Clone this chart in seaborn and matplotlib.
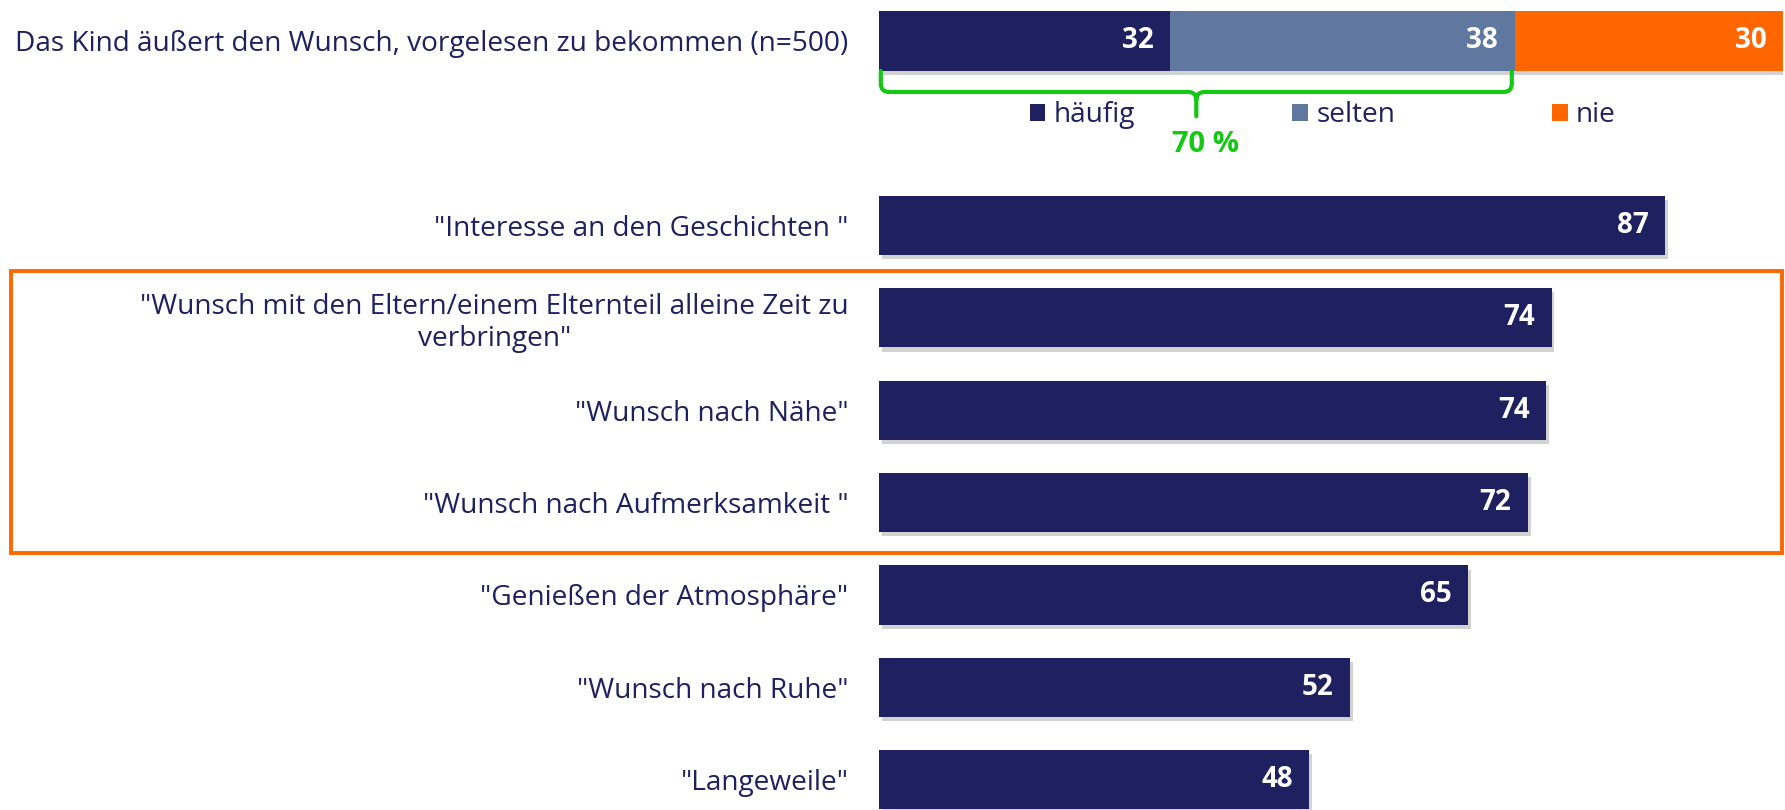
import numpy as np
import pandas as pd
import matplotlib
matplotlib.use("Agg")
import matplotlib.pyplot as plt
import matplotlib.patheffects as pe
from matplotlib.patches import Rectangle, Patch, PathPatch
from matplotlib.path import Path
import seaborn as sns

# ------------------------------------------------------------------
# data
# ------------------------------------------------------------------
top_label = "Das Kind äußert den Wunsch, vorgelesen zu bekommen (n=500)"
top_segments = ["häufig", "selten", "nie"]
top_values = [32.2, 38.1, 29.7]
top_shown = [32, 38, 30]

reasons = [
    '"Interesse an den Geschichten "',
    '"Wunsch mit den Eltern/einem Elternteil alleine Zeit zu\nverbringen"',
    '"Wunsch nach Nähe"',
    '"Wunsch nach Aufmerksamkeit "',
    '"Genießen der Atmosphäre"',
    '"Wunsch nach Ruhe"',
    '"Langeweile"',
]
reason_values = [87.0, 74.4, 73.8, 71.8, 65.2, 52.1, 47.6]
reason_shown = [87, 74, 74, 72, 65, 52, 48]
bracket_text = "70 %"

NAVY = "#1E2060"
SLATE = "#6078A0"
ORANGE = "#FF6600"
GREEN = "#14C814"
seg_colors = [NAVY, SLATE, ORANGE]

sns.set_theme(style="white")
plt.rcParams["font.family"] = ["Open Sans", "DejaVu Sans"]

W, H = 1785, 810
fig = plt.figure(figsize=(W / 100, H / 100), dpi=100)
ax = fig.add_axes([879 / W, 0, 904 / W, 1])

order = [top_label, " "] + reasons
shadow = [pe.SimplePatchShadow(offset=(2, -3), shadow_rgbFace="#808080", alpha=0.35), pe.Normal()]

# 1. stacked top bar: cumulative totals, longest first
cum = np.cumsum(top_values)
for i in reversed(range(len(top_values))):
    df_seg = pd.DataFrame({"label": [top_label], "value": [cum[i]]})
    sns.barplot(data=df_seg, x="value", y="label", order=order, orient="h",
                color=seg_colors[i], saturation=1, width=0.65, errorbar=None,
                linewidth=0, ax=ax)
    cont = ax.containers[-1]
    if i == len(top_values) - 1:
        for bar in cont:
            bar.set_path_effects(shadow)
    texts = ax.bar_label(cont, labels=[str(top_shown[i])], padding=-12,
                         color="white", fontsize=20, fontweight="bold")
    for t in texts:
        t.set_ha("right")

# 2. reasons
df = pd.DataFrame({"reason": reasons, "value": reason_values})
sns.barplot(data=df, x="value", y="reason", order=order, orient="h",
            color=NAVY, saturation=1, width=0.64, errorbar=None, linewidth=0, ax=ax)
cont = ax.containers[-1]
for bar in cont:
    bar.set_path_effects(shadow)
texts = ax.bar_label(cont, labels=[str(v) for v in reason_shown], padding=-12,
                     color="white", fontsize=20, fontweight="bold")
for t in texts:
    t.set_ha("right")

ax.set_xlim(0, 100)
ax.set_ylim(8.327, -0.439)
ax.set_xlabel("")
ax.set_ylabel("")
ax.set_xticks([])
sns.despine(ax=ax, left=True, bottom=True)
ax.tick_params(axis="y", length=0, pad=22, labelsize=20.2, labelcolor=NAVY)

# green bracket over häufig + selten
x0, x1 = 0.2, cum[1] - 0.3
xm = (x0 + x1) / 2
y_top, y_bot, y_tick = 0.33, 0.556, 0.82
rx, ry = 0.9, 0.09
verts = [
    (x0, y_top), (x0, y_bot - ry), (x0, y_bot), (x0 + rx, y_bot),
    (xm - rx, y_bot), (xm, y_bot), (xm, y_bot + ry), (xm, y_tick),
    (xm, y_bot + ry), (xm, y_bot), (xm + rx, y_bot),
    (x1 - rx, y_bot), (x1, y_bot), (x1, y_bot - ry), (x1, y_top),
]
codes = [
    Path.MOVETO, Path.LINETO, Path.CURVE3, Path.CURVE3,
    Path.LINETO, Path.CURVE3, Path.CURVE3, Path.LINETO,
    Path.MOVETO, Path.CURVE3, Path.CURVE3,
    Path.LINETO, Path.CURVE3, Path.CURVE3, Path.LINETO,
]
ax.add_patch(PathPatch(Path(verts, codes), fill=False, edgecolor=GREEN, lw=3,
                       capstyle="round", joinstyle="round", clip_on=False))
ax.text(xm + 1, 1.12, bracket_text, color=GREEN, fontsize=21, fontweight="bold",
        ha="center", va="center")

# legend
handles = [Patch(facecolor=c, edgecolor="none") for c in seg_colors]
fig.legend(handles, top_segments, loc="center left", ncol=3,
           bbox_to_anchor=(1030 / W, 1 - 115 / H), bbox_transform=fig.transFigure,
           frameon=False, fontsize=20.2, labelcolor=NAVY, borderpad=0, borderaxespad=0,
           handlelength=0.55, handleheight=0.55, handletextpad=0.3, columnspacing=5.6)

# orange highlight box around the three "Wunsch" reasons
fig.add_artist(Rectangle((11 / W, 1 - 553 / H), (1782 - 11) / W, (553 - 271) / H,
                         transform=fig.transFigure, fill=False, edgecolor=ORANGE, lw=2.8))

fig.canvas.draw()
for lbl in ax.get_yticklabels():
    lbl.set_multialignment("center")

fig.savefig("out.png", dpi=100)
